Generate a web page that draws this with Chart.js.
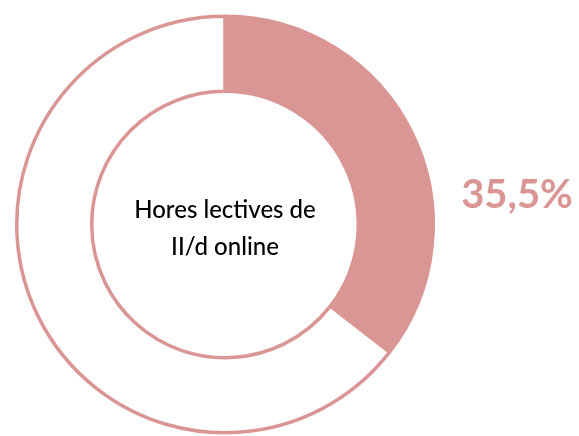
<!DOCTYPE html>
<html>
<head>
<meta charset="utf-8">
<script src="https://cdn.jsdelivr.net/npm/chart.js@4"></script>
<style>
  html, body { margin: 0; padding: 0; background: #fff; }
  #wrap { width: 579px; height: 436px; }
</style>
</head>
<body>
<div id="wrap"><canvas id="donut"></canvas></div>
<script>
const categories = ['Hores lectives de II/d online', 'Resta'];
const values = [35.5, 64.5];
const centerLines = ['Hores lectives de', 'II/d online'];

const pink = '#D99694';

const formatPct = (v) => v.toFixed(1).replace('.', ',') + '%';

// draws the caption in the hole and the percentage on the right
const textPlugin = {
    id: 'donutText',
    afterDraw(chart) {
        const ctx = chart.ctx;
        const arc = chart.getDatasetMeta(0).data[0];
        const cx = arc.x, cy = arc.y;
        ctx.save();
        ctx.textAlign = 'center';
        ctx.textBaseline = 'alphabetic';
        ctx.fillStyle = '#000';
        ctx.font = '500 24px Lato, "Open Sans", sans-serif';
        ctx.fillText(centerLines[0], cx, cy - 7);
        ctx.fillText(centerLines[1], cx, cy + 30);

        ctx.fillStyle = pink;
        ctx.font = 'bold 40px Lato, "Open Sans", sans-serif';
        ctx.fillText(formatPct(values[0]), 517, 208);
        ctx.restore();
    }
};

new Chart(document.getElementById('donut'), {
    type: 'doughnut',
    data: {
        labels: categories,
        datasets: [{
            data: values,
            backgroundColor: [pink, '#FFFFFF'],
            borderColor: pink,
            borderWidth: 3.5
        }]
    },
    options: {
        responsive: true,
        maintainAspectRatio: false,
        animation: false,
        cutout: '64%',
        layout: { padding: { left: 15, right: 144, top: 14, bottom: 1 } },
        plugins: {
            legend: { display: false },
            tooltip: { enabled: false }
        }
    },
    plugins: [textPlugin]
});
</script>
</body>
</html>
